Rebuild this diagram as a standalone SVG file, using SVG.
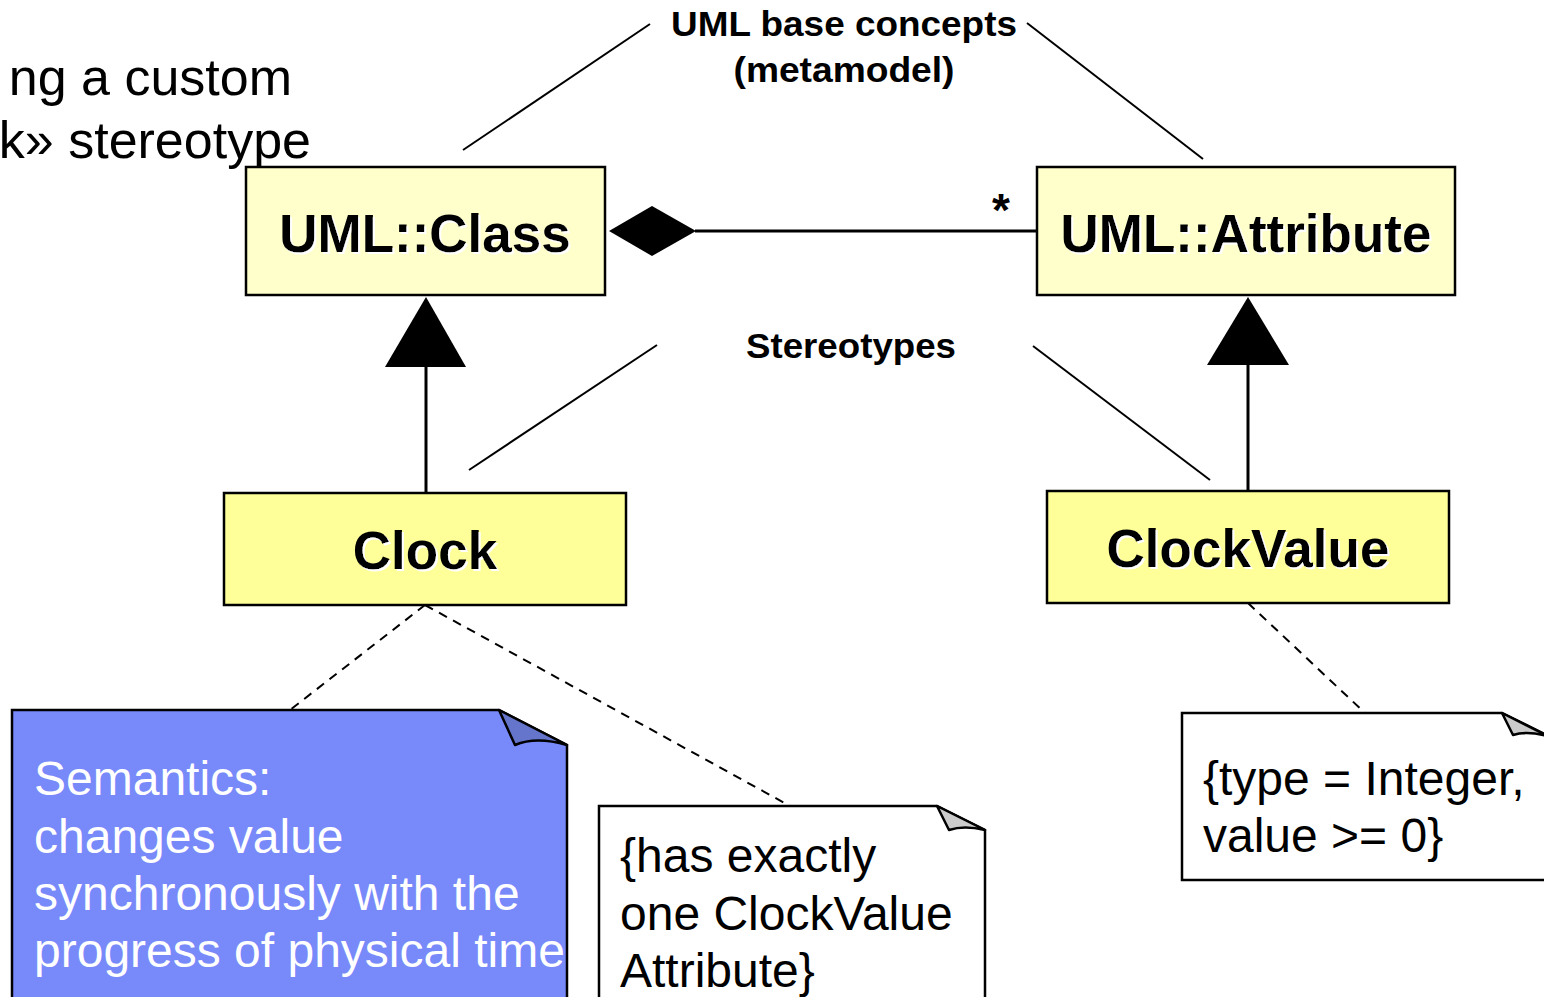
<svg xmlns="http://www.w3.org/2000/svg" width="1544" height="997" viewBox="0 0 1544 997">
  <defs>
    <filter id="lift" x="-5%" y="-10%" width="110%" height="130%">
      <feDropShadow dx="2" dy="2" stdDeviation="0" flood-color="#ffffff" flood-opacity="1"/>
    </filter>
  </defs>
  <style>
    .meta { fill: #ffffcc; stroke: #000; stroke-width: 2.5; }
    .stereo { fill: #ffff99; stroke: #000; stroke-width: 2.5; }
    .name { font-family: "Liberation Sans", Arial, sans-serif; font-weight: bold; font-size: 53px; fill: #000; text-anchor: middle; }
    .label { font-family: "Liberation Sans", Arial, sans-serif; font-weight: bold; font-size: 35px; fill: #000; text-anchor: middle; }
    .mult { font-family: "Liberation Sans", Arial, sans-serif; font-weight: bold; font-size: 46px; fill: #000; text-anchor: middle; }
    .body { font-family: "Liberation Sans", Arial, sans-serif; font-size: 48px; fill: #000; }
    .title { font-family: "Liberation Sans", Arial, sans-serif; font-size: 52px; fill: #000; text-anchor: end; }
    .thin { stroke: #000; stroke-width: 2; fill: none; }
    .solid { stroke: #000; stroke-width: 3; fill: none; }
    .dash { stroke: #000; stroke-width: 2; fill: none; stroke-dasharray: 9 7; }
    .note { stroke: #000; stroke-width: 2.5; }
  </style>

  <rect width="1544" height="997" fill="#ffffff"/>

  <!-- slide heading -->
  <g id="heading">
    <text class="title" x="292" y="95">ng a custom</text>
    <text class="title" x="311" y="158">k» stereotype</text>
  </g>

  <!-- group labels with their bracket lines -->
  <g id="label-base">
    <text class="label" x="844" y="36" textLength="346" lengthAdjust="spacingAndGlyphs">UML base concepts</text>
    <text class="label" x="844" y="82" textLength="221" lengthAdjust="spacingAndGlyphs">(metamodel)</text>
    <line class="thin" x1="463" y1="150" x2="650" y2="24"/>
    <line class="thin" x1="1027" y1="23" x2="1203" y2="159"/>
  </g>
  <g id="label-stereotypes">
    <text class="label" x="851" y="358" textLength="210" lengthAdjust="spacingAndGlyphs">Stereotypes</text>
    <line class="thin" x1="657" y1="345" x2="469" y2="470"/>
    <line class="thin" x1="1033" y1="346" x2="1210" y2="480"/>
  </g>

  <!-- connectors -->
  <g id="connectors">
    <!-- composition UML::Class <>— UML::Attribute -->
    <line class="solid" x1="695" y1="231" x2="1037" y2="231"/>
    <polygon points="609,231 652,206 696,231 652,256" fill="#000"/>
    <text class="mult" x="1001" y="226">*</text>
    <!-- generalizations -->
    <line class="solid" x1="426" y1="365" x2="426" y2="493"/>
    <polygon points="426,297 466,367 385,367" fill="#000"/>
    <line class="solid" x1="1248" y1="363" x2="1248" y2="491"/>
    <polygon points="1248,297 1289,365 1207,365" fill="#000"/>
    <!-- note anchors -->
    <line class="dash" x1="425" y1="605" x2="290" y2="710"/>
    <line class="dash" x1="425" y1="605" x2="790" y2="806"/>
    <line class="dash" x1="1248" y1="603" x2="1365" y2="713"/>
  </g>

  <!-- classes -->
  <g id="uml-class">
    <rect class="meta" x="246" y="167" width="359" height="128"/>
    <text class="name" x="425" y="252" filter="url(#lift)">UML::Class</text>
  </g>
  <g id="uml-attribute">
    <rect class="meta" x="1037" y="167" width="418" height="128"/>
    <text class="name" x="1246" y="252" filter="url(#lift)">UML::Attribute</text>
  </g>
  <g id="clock">
    <rect class="stereo" x="224" y="493" width="402" height="112"/>
    <text class="name" x="425" y="569" filter="url(#lift)">Clock</text>
  </g>
  <g id="clock-value">
    <rect class="stereo" x="1047" y="491" width="402" height="112"/>
    <text class="name" x="1248" y="567" filter="url(#lift)">ClockValue</text>
  </g>

  <!-- notes -->
  <g id="note-semantics">
    <path class="note" d="M12,1000 L12,710 L499,710 L567,745 L567,1000" fill="#7889fa"/>
    <path class="note" d="M499,710 L515,745 Q536,736 567,745 Z" fill="#6675cc" stroke-linejoin="round"/>
    <g class="body" style="fill:#ffffff">
      <text x="34" y="795">Semantics:</text>
      <text x="34" y="853">changes value</text>
      <text x="34" y="910">synchronously with the</text>
      <text x="34" y="967">progress of physical time</text>
    </g>
  </g>
  <g id="note-has-value">
    <path class="note" d="M599,1000 L599,806 L937,806 L985,830 L985,1000" fill="#ffffff"/>
    <path class="note" d="M937,806 L949,830 Q964,825 985,830 Z" fill="#cccccc" stroke-linejoin="round"/>
    <text class="body" x="620" y="872">{has exactly</text>
    <text class="body" x="620" y="930">one ClockValue</text>
    <text class="body" x="620" y="987">Attribute}</text>
  </g>
  <g id="note-type">
    <path class="note" d="M1182,713 L1502,713 L1550,737 L1550,880 L1182,880 Z" fill="#ffffff"/>
    <path class="note" d="M1502,713 L1513,735 Q1528,730 1550,737 Z" fill="#cccccc" stroke-linejoin="round"/>
    <text class="body" x="1203" y="795">{type = Integer,</text>
    <text class="body" x="1203" y="852">value &gt;= 0}</text>
  </g>
</svg>
